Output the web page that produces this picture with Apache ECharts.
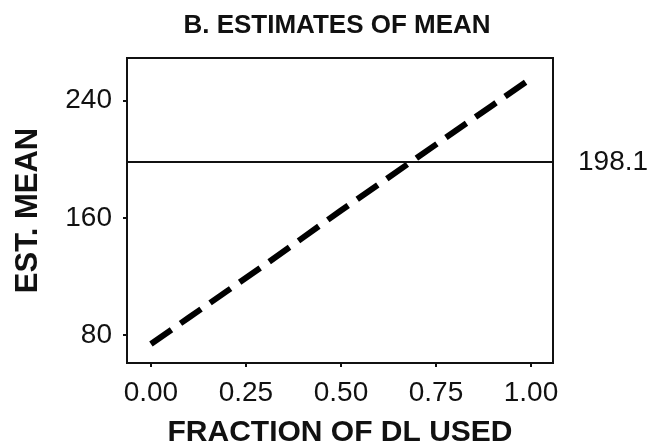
<!DOCTYPE html>
<html>
<head>
<meta charset="utf-8">
<script src="https://cdn.jsdelivr.net/npm/echarts@6/dist/echarts.min.js"></script>
<style>
  html, body { margin: 0; padding: 0; background: #fff; }
  #main { width: 657px; height: 447px; }
</style>
</head>
<body>
<div id="main"></div>
<script>
// data
const fraction = [0, 0.1, 0.2, 0.3, 0.4, 0.5, 0.6, 0.7, 0.8, 0.9, 1.0];
const estMean = [74, 92, 110, 128, 146.5, 165, 183, 201, 219, 237, 255];
const refMean = 198.1;
const xTicks = [0, 0.25, 0.5, 0.75, 1.0];
const yTicks = [80, 160, 240];

const chart = echarts.init(document.getElementById('main'));
const font = 'Liberation Sans, Arial, sans-serif';

const option = {
  animation: false,
  title: {
    text: 'B. ESTIMATES OF MEAN',
    left: 337,
    textAlign: 'center',
    top: 13,
    padding: 0,
    textStyle: { fontFamily: font, fontSize: 26, fontWeight: 'bold', color: '#111' }
  },
  grid: {
    left: 127, right: 104, top: 58, bottom: 84,
    outerBoundsMode: 'none',
    show: true, borderColor: '#111', borderWidth: 2, backgroundColor: '#fff'
  },
  xAxis: {
    type: 'value',
    min: -0.063,
    max: 1.058,
    name: 'FRACTION OF DL USED',
    nameLocation: 'middle',
    nameGap: 55,
    nameTextStyle: { fontFamily: font, fontSize: 30, fontWeight: 'bold', color: '#111' },
    axisLine: { show: true, onZero: false, lineStyle: { color: '#111', width: 2 } },
    axisTick: { show: true, customValues: xTicks, length: 4, lineStyle: { color: '#111', width: 2 } },
    axisLabel: {
      customValues: xTicks, margin: 16,
      fontFamily: font, fontSize: 28, color: '#111',
      formatter: v => v.toFixed(2)
    },
    splitLine: { show: false }
  },
  yAxis: {
    type: 'value',
    min: 61,
    max: 269,
    name: 'EST. MEAN',
    nameLocation: 'middle',
    nameRotate: 90,
    nameGap: 83,
    nameTextStyle: { fontFamily: font, fontSize: 31, fontWeight: 'bold', color: '#111' },
    axisLine: { show: true, onZero: false, lineStyle: { color: '#111', width: 2 } },
    axisTick: { show: true, customValues: yTicks, length: 4, lineStyle: { color: '#111', width: 2 } },
    axisLabel: {
      customValues: yTicks, margin: 15,
      fontFamily: font, fontSize: 28, color: '#111'
    },
    splitLine: { show: false }
  },
  series: [{
    type: 'line',
    data: fraction.map((x, i) => [x, estMean[i]]),
    showSymbol: false,
    lineStyle: { color: '#000', width: 6, type: [25, 11], cap: 'butt' },
    markLine: {
      silent: true,
      symbol: 'none',
      lineStyle: { color: '#111', width: 2, type: 'solid' },
      label: {
        position: 'end', distance: 25,
        formatter: String(refMean),
        fontFamily: font, fontSize: 28, color: '#111'
      },
      data: [{ yAxis: refMean }]
    }
  }]
};

chart.setOption(option);
</script>
</body>
</html>
